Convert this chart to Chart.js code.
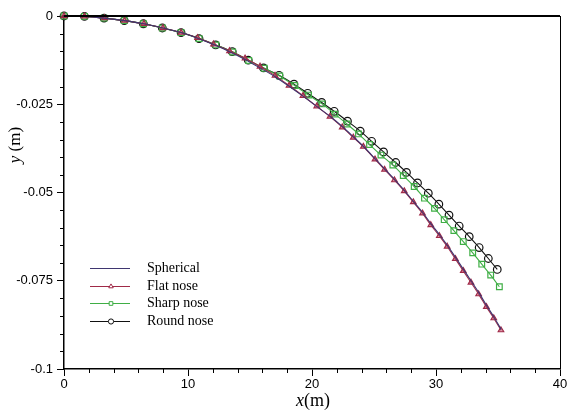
<!DOCTYPE html>
<html>
<head>
<meta charset="utf-8">
<style>
  html, body { margin: 0; padding: 0; background: #fff; }
  #wrap { width: 569px; height: 411px; position: relative; }
</style>
</head>
<body>
<div id="wrap"><canvas id="chart"></canvas></div>
<script src="https://cdn.jsdelivr.net/npm/chart.js@4"></script>
<script>
// values
const seriesNames = ["Spherical", "Flat nose", "Sharp nose", "Round nose"];

const flatX = [0, 1.65, 3.27, 4.88, 6.45, 7.98, 9.44, 10.77, 12.06, 13.35, 14.6, 15.81, 17.02, 18.15, 19.27, 20.38, 21.45, 22.44, 23.33, 24.14, 25.08, 25.85, 26.65, 27.44, 28.17, 28.91, 29.58, 30.27, 30.9, 31.56, 32.2, 32.82, 33.44, 34.06, 34.66, 35.24];
const flatY = [0, -0.0001, -0.0006, -0.0013, -0.0022, -0.0034, -0.0047, -0.0062, -0.008, -0.0099, -0.012, -0.0143, -0.0169, -0.0197, -0.0226, -0.0256, -0.0285, -0.0315, -0.0344, -0.037, -0.0406, -0.0435, -0.0465, -0.0496, -0.0527, -0.0559, -0.0592, -0.0623, -0.0653, -0.0688, -0.0722, -0.0755, -0.0788, -0.0824, -0.0856, -0.089];

const sphereX = [0, 1.65, 3.27, 4.88, 6.45, 7.98, 9.44, 10.77, 12.06, 13.35, 14.6, 15.81, 17.02, 18.15, 19.27, 20.38, 21.45, 22.44, 23.33, 24.14, 25.08, 25.85, 26.65, 27.44, 28.17, 28.91, 29.58, 30.27, 30.9, 31.56, 32.2, 32.82, 33.44, 34.06, 34.66, 35.26];
const sphereY = [0, -0.0001, -0.0006, -0.0013, -0.0022, -0.0034, -0.0047, -0.0063, -0.0081, -0.0101, -0.0123, -0.0147, -0.0172, -0.0199, -0.0227, -0.0256, -0.0284, -0.0313, -0.0342, -0.0369, -0.0404, -0.0433, -0.0463, -0.0494, -0.0525, -0.0556, -0.0588, -0.0619, -0.0649, -0.0683, -0.0717, -0.075, -0.0783, -0.0819, -0.0852, -0.0888];

const sharpX = [0, 1.65, 3.23, 4.86, 6.4, 7.93, 9.44, 10.9, 12.25, 13.6, 14.9, 16.15, 17.4, 18.59, 19.72, 20.81, 21.85, 22.82, 23.75, 24.64, 25.56, 26.52, 27.36, 28.24, 29.07, 29.88, 30.66, 31.44, 32.2, 32.96, 33.69, 34.41, 35.11];
const sharpY = [0, -0.0001, -0.0006, -0.0013, -0.0022, -0.0034, -0.0047, -0.0064, -0.0082, -0.0102, -0.0126, -0.0148, -0.017, -0.0197, -0.0224, -0.0249, -0.0278, -0.0306, -0.0334, -0.0364, -0.0394, -0.0422, -0.0452, -0.0483, -0.0516, -0.0545, -0.0577, -0.0608, -0.0639, -0.0671, -0.0703, -0.0734, -0.0767];

const roundX = [0, 1.65, 3.23, 4.86, 6.4, 7.93, 9.44, 10.89, 12.23, 13.57, 14.86, 16.09, 17.34, 18.55, 19.65, 20.78, 21.79, 22.86, 23.89, 24.81, 25.77, 26.75, 27.62, 28.51, 29.38, 30.23, 31.05, 31.87, 32.68, 33.48, 34.22, 34.94];
const roundY = [0, -0.0001, -0.0006, -0.0013, -0.0022, -0.0034, -0.0047, -0.0064, -0.0082, -0.0101, -0.0125, -0.0147, -0.0168, -0.0193, -0.0219, -0.0245, -0.027, -0.0298, -0.0326, -0.0355, -0.0385, -0.0415, -0.0443, -0.0473, -0.0502, -0.0533, -0.0564, -0.0595, -0.0625, -0.0656, -0.0687, -0.0718];

const xTicks = [0, 10, 20, 30, 40];
const yTicks = [0, -0.025, -0.05, -0.075, -0.1];

function pts(xs, ys) {
  return xs.map((x, i) => ({ x: x, y: ys[i] }));
}

const colors = ["#3f3670", "#a02a48", "#3fae45", "#111111"];
const fills = ["#fff", "rgba(200,80,110,0.55)", "rgba(255,255,255,0)", "rgba(255,255,255,0)"];
const shapes = [false, "triangle", "rect", "circle"];

// minor ticks, frame, legend and axis titles
const decor = {
  id: "decor",
  afterDraw(c) {
    const ctx = c.ctx;
    const a = c.chartArea;
    const xs = c.scales.x, ys = c.scales.y;
    ctx.save();
    ctx.strokeStyle = "#000";
    ctx.lineWidth = 1;
    ctx.beginPath();
    for (let i = 1; i < 20; i++) {
      if (i % 5 === 0) continue;
      const px = Math.round(xs.getPixelForValue(i * 2)) + 0.5;
      ctx.moveTo(px, a.bottom);
      ctx.lineTo(px, a.bottom + 4);
    }
    for (let i = 1; i < 20; i++) {
      if (i % 5 === 0) continue;
      const py = Math.round(ys.getPixelForValue(-i * 0.005)) + 0.5;
      ctx.moveTo(a.left - 4, py);
      ctx.lineTo(a.left, py);
    }
    ctx.stroke();

    // frame top and right
    ctx.lineWidth = 2;
    ctx.beginPath();
    ctx.moveTo(a.left, a.top);
    ctx.lineTo(a.right, a.top);
    ctx.stroke();
    ctx.lineWidth = 1;
    ctx.beginPath();
    ctx.moveTo(a.right + 0.5, a.top);
    ctx.lineTo(a.right + 0.5, a.bottom);
    ctx.stroke();

    // legend
    const metas = c.data.datasets;
    ctx.font = "14px 'Liberation Serif'";
    ctx.textBaseline = "middle";
    const rows = [268, 286, 303, 321];
    metas.forEach((ds, i) => {
      const y = rows[i] + 0.5;
      ctx.strokeStyle = ds.borderColor;
      ctx.lineWidth = 1;
      ctx.beginPath();
      ctx.moveTo(90, y);
      ctx.lineTo(130, y);
      ctx.stroke();
      if (ds.pointStyle) {
        ctx.fillStyle = "#fff";
        ctx.lineWidth = 1;
        Chart.helpers.drawPoint(ctx, {
          pointStyle: ds.pointStyle, radius: 2.6, rotation: 0, borderWidth: 1
        }, 111, y);
      }
      ctx.fillStyle = "#000";
      ctx.fillText(ds.label, 147, rows[i]);
    });

    // x title
    ctx.fillStyle = "#000";
    ctx.font = "italic 18px 'Liberation Serif'";
    const w1 = ctx.measureText("x").width;
    ctx.font = "18px 'Liberation Serif'";
    const w2 = ctx.measureText("(m)").width;
    let sx = 313 - (w1 + w2) / 2;
    ctx.textBaseline = "alphabetic";
    ctx.font = "italic 18px 'Liberation Serif'";
    ctx.fillText("x", sx, 406);
    ctx.font = "18px 'Liberation Serif'";
    ctx.fillText("(m)", sx + w1, 406);

    // y title
    ctx.translate(20, 145);
    ctx.rotate(-Math.PI / 2);
    ctx.font = "italic 17px 'Liberation Serif'";
    const v1 = ctx.measureText("y").width;
    ctx.font = "17px 'Liberation Serif'";
    const v2 = ctx.measureText(" (m)").width;
    sx = -(v1 + v2) / 2;
    ctx.font = "italic 17px 'Liberation Serif'";
    ctx.fillText("y", sx, 0);
    ctx.font = "17px 'Liberation Serif'";
    ctx.fillText(" (m)", sx + v1, 0);
    ctx.restore();
  }
};

const datasets = [
  { label: seriesNames[0], data: pts(sphereX, sphereY), pointRadius: 0 },
  { label: seriesNames[1], data: pts(flatX, flatY), pointRadius: 3.2 },
  { label: seriesNames[2], data: pts(sharpX, sharpY), pointRadius: 4 },
  { label: seriesNames[3], data: pts(roundX, roundY), pointRadius: 3.8 }
].map((d, i) => Object.assign(d, {
  borderColor: colors[i],
  pointBorderColor: colors[i],
  pointBackgroundColor: fills[i],
  pointStyle: shapes[i],
  borderWidth: 1.1,
  pointBorderWidth: 1.2,
  tension: 0.25,
  clip: false
}));

const ctx = document.getElementById("chart").getContext("2d");
new Chart(ctx, {
  type: "line",
  data: { datasets: datasets },
  options: {
    responsive: true,
    maintainAspectRatio: false,
    animation: false,
    layout: { padding: { top: 16, right: 9, left: 0, bottom: 0 } },
    plugins: { legend: { display: false }, tooltip: { enabled: false } },
    scales: {
      x: {
        type: "linear",
        min: 0, max: 40,
        afterBuildTicks: s => { s.ticks = xTicks.map(v => ({ value: v })); },
        afterFit: s => { s.height = 42; },
        ticks: { color: "#000", font: { family: "'Liberation Sans'", size: 13 }, padding: 1, maxRotation: 0 },
        grid: { drawOnChartArea: false, tickLength: 7, tickColor: "#000" },
        border: { color: "#000", width: 1.5 }
      },
      y: {
        type: "linear",
        min: -0.1, max: 0,
        afterBuildTicks: s => { s.ticks = yTicks.map(v => ({ value: v })); },
        afterFit: s => { s.width = 64; },
        ticks: {
          color: "#000", font: { family: "'Liberation Sans'", size: 13 }, padding: 4,
          callback: v => String(Math.round(v * 1000) / 1000)
        },
        grid: { drawOnChartArea: false, tickLength: 7, tickColor: "#000" },
        border: { color: "#000", width: 1.5 }
      }
    }
  },
  plugins: [decor]
});
</script>
</body>
</html>
